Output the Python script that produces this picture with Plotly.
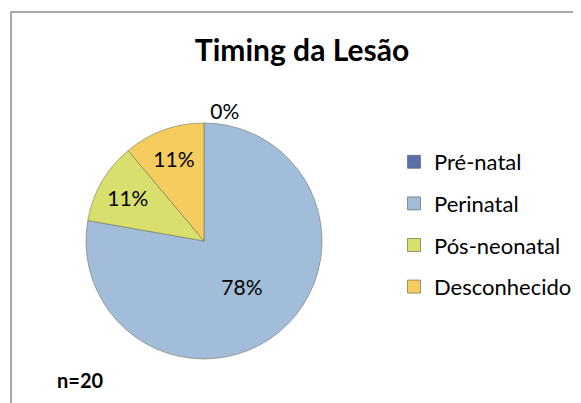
import plotly.graph_objects as go

# ---- data ----
categories = ["Pré-natal", "Perinatal", "Pós-neonatal", "Desconhecido"]
counts = [0, 14, 2, 2]
colors = ["#5B6FAA", "#A2BDD9", "#D8DF6C", "#F5CC5E"]
title_text = "Timing da Lesão"
note_text = "n=20"

# page body has an 8px margin; figure sized to fill the rest of the window
OFF = 8
W, H = 581 - OFF, 403 - OFF

def px(x):
    return (x - OFF) / W

def py(y):
    return 1 - (y - OFF) / H

fig = go.Figure()

fig.add_trace(go.Pie(
    labels=categories,
    values=counts,
    sort=False,
    direction="clockwise",
    rotation=0,
    marker=dict(colors=colors, line=dict(color="rgba(110,110,90,0.55)", width=1)),
    texttemplate="%{percent:.0%}",
    textposition=["outside", "inside", "inside", "inside"],
    insidetextorientation="horizontal",
    textfont=dict(family="Lato", size=21, color="#000000"),
    outsidetextfont=dict(family="Lato", size=21, color="#000000"),
    hoverinfo="label+percent",
    showlegend=False,
    domain=dict(x=[px(85), px(323)], y=[py(359), py(123)]),
))

# legend entries built from the categories
for name, col in zip(categories, colors):
    fig.add_trace(go.Scatter(
        x=[None], y=[None], mode="markers", name=name,
        legendgroup=name,
        marker=dict(symbol="square", size=13, color=col,
                    line=dict(color="rgba(90,90,70,0.6)", width=1)),
        showlegend=True,
    ))

fig.update_layout(
    width=W, height=H,
    margin=dict(l=0, r=0, t=0, b=0),
    paper_bgcolor="white",
    plot_bgcolor="white",
    xaxis=dict(visible=False),
    yaxis=dict(visible=False),
    title=dict(text="<b>" + title_text + "</b>", x=px(302), xanchor="center",
               y=py(50), yanchor="middle",
               font=dict(family="Lato", size=30, color="#000000")),
    legend=dict(x=px(394), xanchor="left", y=py(141), yanchor="top",
                font=dict(family="Lato", size=22, color="#000000"),
                tracegroupgap=10, bgcolor="rgba(0,0,0,0)"),
    annotations=[dict(text="<b>" + note_text + "</b>", x=px(55), y=py(380),
                      xref="paper", yref="paper", xanchor="left", yanchor="middle",
                      showarrow=False,
                      font=dict(family="Lato", size=20, color="#000000"))],
    shapes=[dict(type="rect", xref="paper", yref="paper",
                 x0=px(11), y0=py(12), x1=1.05, y1=-0.05,
                 line=dict(color="#8C8C8C", width=1.5))],
)

fig.write_html("out.html")
